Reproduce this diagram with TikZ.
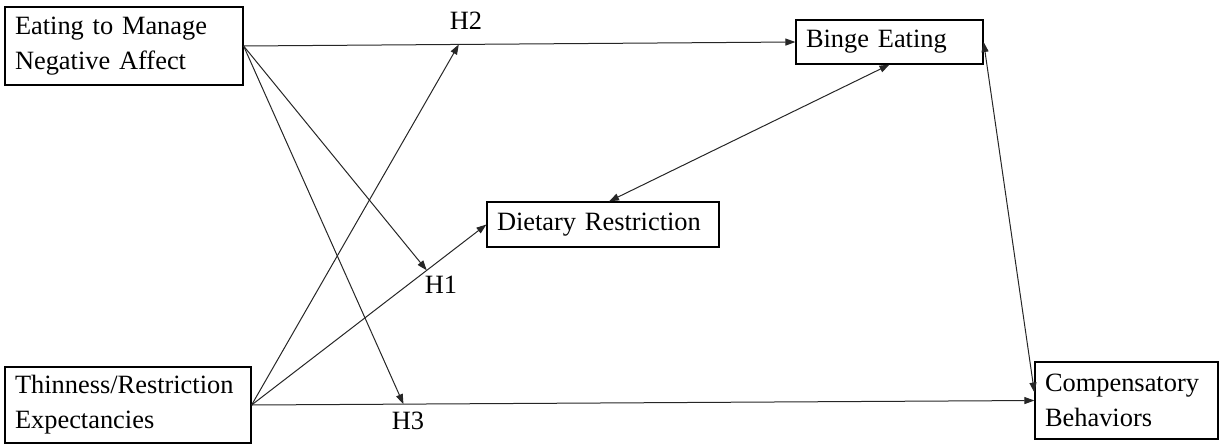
\documentclass[tikz,border=0pt]{standalone}
\usepackage{fontspec}
\setmainfont{Liberation Serif}
\usetikzlibrary{arrows.meta,positioning,calc}

\begin{document}
\begin{tikzpicture}[
  x=1pt, y=-1pt,
  factor/.style={
    rectangle,
    draw=black,
    line width=1.2pt,
    align=left,
    inner xsep=10pt,
    inner ysep=0pt,
    font=\fontsize{26.4}{35}\selectfont
  },
  hlabel/.style={inner sep=0pt, font=\fontsize{26.4}{35}\selectfont},
  arrow/.style={-{Triangle[length=10pt,width=7pt]}, line width=1pt, draw=black!85},
  both/.style={{Triangle[length=10pt,width=7pt]}-{Triangle[length=10pt,width=7pt]}, line width=1pt, draw=black!85}
]
\useasboundingbox (0,0) rectangle (1225,444);

\node[factor, text width=218pt, minimum height=78pt] (ema) at (124,46) {Eating to Manage\\Negative Affect};
\node[factor, text width=226pt, minimum height=76pt] (thin) at (128,405) {Thinness/Restriction\\Expectancies};
\node[factor, text width=212pt, minimum height=45pt] (diet) at (603,224.5) {Dietary Restriction};
\node[factor, text width=167pt, minimum height=44pt] (binge) at (889.5,42) {Binge Eating};
\node[factor, text width=163pt, minimum height=77pt] (comp) at (1126.5,400.5) {Compensatory\\Behaviors};

% direct paths
\draw[arrow] (ema.east) -- coordinate[pos=0.39] (h2pt) (binge.west);
\draw[arrow] (thin.east) -- coordinate[pos=0.746] (h1pt) (diet.west);
\draw[arrow] (thin.east) -- coordinate[pos=0.194] (h3pt) (comp.west);

% moderation paths
\draw[arrow] (ema.east) -- (h1pt);
\draw[arrow] (ema.east) -- (h3pt);
\draw[arrow] (thin.east) -- (h2pt);

\draw[both] (binge.south) -- ([xshift=6pt]diet.north);
\draw[both] (binge.east) -- ([yshift=8pt]comp.west);

\node[hlabel] (h1) at (441,285) {H1};
\node[hlabel] (h2) at (466,21) {H2};
\node[hlabel] (h3) at (408,421) {H3};

\end{tikzpicture}
\end{document}
